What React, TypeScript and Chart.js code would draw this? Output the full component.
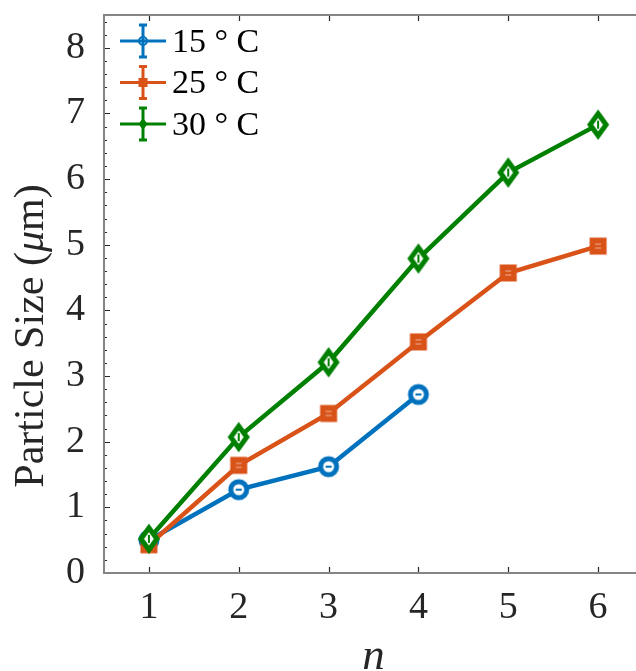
import React, { useEffect, useRef } from "react";
import { Chart, registerables } from "chart.js";

Chart.register(...registerables);

// Growth index n and measured mean particle size (µm) at each temperature
const nValues = [1, 2, 3, 4, 5, 6];
const size15 = [0.5, 1.27, 1.62, 2.72];
const size25 = [0.43, 1.64, 2.43, 3.52, 4.57, 4.98];
const size30 = [0.52, 2.07, 3.21, 4.79, 6.1, 6.83];
const seriesLabels = ["15 ° C", "25 ° C", "30 ° C"];

const xTicks = [1, 2, 3, 4, 5, 6];
const yTicks = [0, 1, 2, 3, 4, 5, 6, 7, 8];
const yMinorStep = 0.2;

const BLUE = "#0072BD";
const ORANGE = "#D95319";
const GREEN = "#008000";
const SERIF = "'Liberation Serif', 'Times New Roman', serif";

type Shape = "circle" | "square" | "diamond";

function plotMarker(shape: Shape, color: string): HTMLCanvasElement {
  const c = document.createElement("canvas");
  const w = 34;
  const h = 38;
  c.width = w;
  c.height = h;
  const g = c.getContext("2d")!;
  const cx = w / 2;
  const cy = h / 2;
  g.strokeStyle = color;
  g.fillStyle = color;
  if (shape === "circle") {
    g.lineWidth = 5;
    g.beginPath();
    g.arc(cx, cy, 8, 0, Math.PI * 2);
    g.fillStyle = "#fff";
    g.fill();
    g.stroke();
    g.lineWidth = 2;
    g.beginPath();
    g.moveTo(cx - 3, cy);
    g.lineTo(cx + 3, cy);
    g.stroke();
  } else if (shape === "square") {
    g.fillRect(cx - 8.5, cy - 8.5, 17, 17);
    g.strokeStyle = "rgba(255,255,255,0.55)";
    g.lineWidth = 1;
    g.beginPath();
    g.moveTo(cx - 3, cy - 2);
    g.lineTo(cx + 3, cy - 2);
    g.moveTo(cx - 3, cy + 2);
    g.lineTo(cx + 3, cy + 2);
    g.stroke();
  } else {
    g.lineWidth = 5;
    g.lineJoin = "miter";
    g.miterLimit = 10;
    g.beginPath();
    g.moveTo(cx, cy - 11);
    g.lineTo(cx + 8, cy);
    g.lineTo(cx, cy + 11);
    g.lineTo(cx - 8, cy);
    g.closePath();
    g.fillStyle = "#fff";
    g.fill();
    g.stroke();
    g.lineWidth = 2;
    g.beginPath();
    g.moveTo(cx, cy - 4);
    g.lineTo(cx, cy + 4);
    g.stroke();
  }
  return c;
}

// Legend drawn as MATLAB-style errorbar samples
const errorLegend = {
  id: "errorLegend",
  afterDraw(chart: any) {
    const { ctx, chartArea } = chart;
    const shapes: Shape[] = ["circle", "square", "diamond"];
    chart.data.datasets.forEach((ds: any, i: number) => {
      const cy = chartArea.top + 26 + i * 41.5;
      const x0 = chartArea.left + 16;
      const x1 = chartArea.left + 62;
      const mx = (x0 + x1) / 2;
      const color = ds.borderColor as string;
      ctx.save();
      ctx.strokeStyle = color;
      ctx.fillStyle = color;
      ctx.lineWidth = 3;
      ctx.beginPath();
      ctx.moveTo(x0, cy);
      ctx.lineTo(x1, cy);
      ctx.moveTo(mx, cy - 16);
      ctx.lineTo(mx, cy + 16);
      ctx.moveTo(mx - 4, cy - 16);
      ctx.lineTo(mx + 4, cy - 16);
      ctx.moveTo(mx - 4, cy + 16);
      ctx.lineTo(mx + 4, cy + 16);
      ctx.stroke();
      const s = shapes[i];
      ctx.lineWidth = 2;
      if (s === "circle") {
        ctx.beginPath();
        ctx.arc(mx, cy, 4, 0, Math.PI * 2);
        ctx.stroke();
      } else if (s === "square") {
        ctx.fillRect(mx - 4.5, cy - 4.5, 9, 9);
      } else {
        ctx.beginPath();
        ctx.moveTo(mx, cy - 6);
        ctx.lineTo(mx + 4.5, cy);
        ctx.lineTo(mx, cy + 6);
        ctx.lineTo(mx - 4.5, cy);
        ctx.closePath();
        ctx.fill();
      }
      ctx.fillStyle = "#000";
      ctx.font = `34px ${SERIF}`;
      ctx.textAlign = "left";
      ctx.textBaseline = "middle";
      ctx.fillText(ds.label, chartArea.left + 68, cy + 2);
      ctx.restore();
    });
  },
};

// Box outline with inward major/minor ticks
const axesFrame = {
  id: "axesFrame",
  afterDatasetsDraw(chart: any) {
    const { ctx, chartArea, scales } = chart;
    const { left, right, top, bottom } = chartArea;
    ctx.save();
    ctx.strokeStyle = "#262626";
    ctx.lineWidth = 1.2;
    ctx.beginPath();
    xTicks.forEach((v) => {
      const px = Math.round(scales.x.getPixelForValue(v)) + 0.5;
      ctx.moveTo(px, bottom);
      ctx.lineTo(px, bottom - 6);
      ctx.moveTo(px, top);
      ctx.lineTo(px, top + 6);
    });
    const yMax = scales.y.max;
    for (let k = 0; k * yMinorStep <= yMax + 1e-9; k++) {
      const v = k * yMinorStep;
      const major = Math.abs(v - Math.round(v)) < 1e-6;
      const py = Math.round(scales.y.getPixelForValue(v)) + 0.5;
      ctx.moveTo(left, py);
      ctx.lineTo(left + (major ? 6 : 3), py);
    }
    ctx.stroke();
    ctx.strokeStyle = "#858585";
    ctx.lineWidth = 2;
    ctx.strokeRect(left, top, right - left, bottom - top);
    ctx.restore();
  },
};

// Y axis label with italic µ
const yTitle = {
  id: "yTitle",
  afterDraw(chart: any) {
    const { ctx } = chart;
    const parts: [string, string][] = [
      ["Particle Size (", `42px ${SERIF}`],
      ["\u03bc", `italic 42px ${SERIF}`],
      ["m)", `42px ${SERIF}`],
    ];
    ctx.save();
    let total = 0;
    const widths = parts.map(([t, f]) => {
      ctx.font = f;
      const w = ctx.measureText(t).width;
      total += w;
      return w;
    });
    ctx.translate(43, 336);
    ctx.rotate(-Math.PI / 2);
    ctx.fillStyle = "#262626";
    ctx.textAlign = "left";
    ctx.textBaseline = "alphabetic";
    let x = -total / 2;
    parts.forEach(([t, f], i) => {
      ctx.font = f;
      ctx.fillText(t, x, 0);
      x += widths[i];
    });
    ctx.restore();
  },
};

const noEdgePadding = (s: any) => {
  s.paddingTop = 0;
  s.paddingBottom = 0;
  s.paddingLeft = 0;
  s.paddingRight = 0;
};

export default function App() {
  const ref = useRef<HTMLCanvasElement | null>(null);

  useEffect(() => {
    document.body.style.margin = "0";
    const canvas = ref.current;
    if (!canvas) return;

    const toPoints = (ys: number[]) => ys.map((y, i) => ({ x: nValues[i], y }));
    const mk15 = plotMarker("circle", BLUE);
    const mk25 = plotMarker("square", ORANGE);
    const mk30 = plotMarker("diamond", GREEN);

    const chart = new Chart(canvas, {
      type: "line",
      data: {
        datasets: [
          {
            label: seriesLabels[0],
            data: toPoints(size15),
            borderColor: BLUE,
            backgroundColor: BLUE,
            borderWidth: 4.5,
            pointStyle: mk15 as any,
            pointRadius: 10,
            order: 2,
          },
          {
            label: seriesLabels[1],
            data: toPoints(size25),
            borderColor: ORANGE,
            backgroundColor: ORANGE,
            borderWidth: 4.5,
            pointStyle: mk25 as any,
            pointRadius: 10,
            order: 1,
          },
          {
            label: seriesLabels[2],
            data: toPoints(size30),
            borderColor: GREEN,
            backgroundColor: GREEN,
            borderWidth: 4.5,
            pointStyle: mk30 as any,
            pointRadius: 10,
            order: 0,
          },
        ],
      },
      options: {
        animation: false,
        responsive: false,
        events: [],
        layout: { autoPadding: false, padding: { top: 15, right: 7, left: 0, bottom: 0 } },
        plugins: {
          legend: { display: false },
          tooltip: { enabled: false },
        },
        elements: { line: { tension: 0 } },
        scales: {
          x: {
            type: "linear",
            min: 0.5,
            max: 6.5,
            grid: { display: false },
            border: { display: false },
            afterBuildTicks: (s: any) => {
              s.ticks = xTicks.map((v) => ({ value: v }));
            },
            afterFit: (s: any) => {
              s.height = 98;
              noEdgePadding(s);
            },
            ticks: {
              padding: 4,
              color: "#262626",
              font: { family: SERIF, size: 38 },
              maxRotation: 0,
              callback: (v: any) => String(v),
            },
            title: {
              display: true,
              text: "n",
              color: "#262626",
              font: { family: SERIF, size: 45, style: "italic", lineHeight: 0.6 },
              padding: 0,
            },
          },
          y: {
            type: "linear",
            min: 0,
            max: 8.5,
            grid: { display: false },
            border: { display: false },
            afterBuildTicks: (s: any) => {
              s.ticks = yTicks.map((v) => ({ value: v }));
            },
            afterFit: (s: any) => {
              s.width = 104;
              noEdgePadding(s);
            },
            ticks: {
              padding: 11,
              color: "#262626",
              font: { family: SERIF, size: 38 },
              callback: (v: any) => String(v),
            },
          },
        },
      },
      plugins: [axesFrame, errorLegend, yTitle],
    });

    return () => chart.destroy();
  }, []);

  return (
    <div style={{ width: 636, height: 671, overflow: "hidden", position: "relative" }}>
      <div style={{ width: 650, height: 671, position: "absolute", left: 0, top: 0 }}>
        <canvas ref={ref} width={650} height={671} style={{ display: "block", width: 650, height: 671 }} />
      </div>
    </div>
  );
}
